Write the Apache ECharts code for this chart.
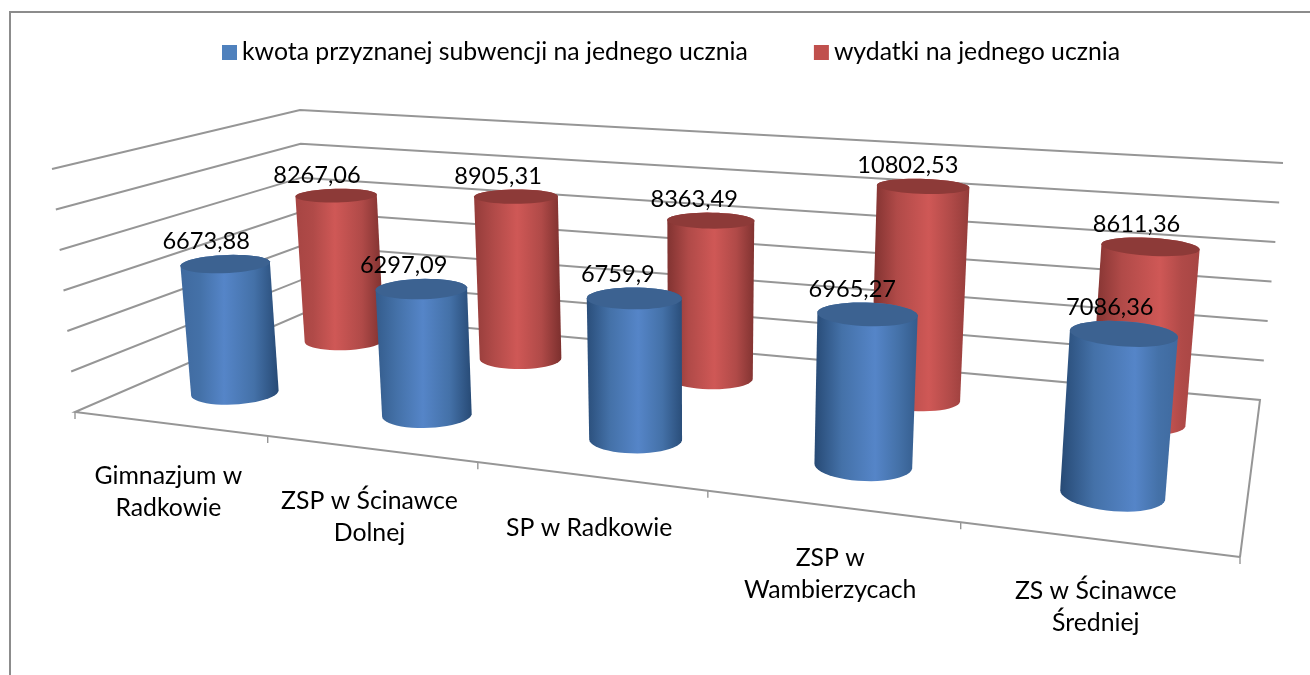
<!DOCTYPE html>
<html><head><meta charset="utf-8">
<style>html,body{margin:0;padding:0;background:#fff}#c{width:1310px;height:675px}</style>
<script src="https://cdn.jsdelivr.net/npm/echarts@6/dist/echarts.min.js"></script>
</head><body><div id="c"></div>
<script>
const categories = ['Gimnazjum w\nRadkowie','ZSP w Ścinawce\nDolnej','SP w Radkowie','ZSP w\nWambierzycach','ZS w Ścinawce\nŚredniej'];
const subwencja = [6673.88,6297.09,6759.9,6965.27,7086.36];
const wydatki = [8267.06,8905.31,8363.49,10802.53,8611.36];
const gridTicks = [0,2000,4000,6000,8000,10000,12000];
const tickEdges = [0,1,2,3,4,5];
const FONT = 'Lato';

// Perspective camera of the 3-D box, fitted to its corners (FL FR BR BL).
const cameraFloor = [[75,412],[1240,557],[1260,400],[314,309]];
const cameraTop   = [[52,169],[1267,253],[1283,163],[300,110]];
// The wall outline as seen: front-left, back-left, back-right, front-right.
const wallFloor = [[75,412],[304,313],[1260,400],[1240,557]];
const wallTop   = [[52,169],[300,110],[1283,163]];
const camera = (function(){
  const [x0,y0]=cameraFloor[0],[x1,y1]=cameraFloor[1],[x2,y2]=cameraFloor[2],[x3,y3]=cameraFloor[3];
  const dx1=x1-x2,dx2=x3-x2,sx=x0-x1+x2-x3,dy1=y1-y2,dy2=y3-y2,sy=y0-y1+y2-y3;
  const den=dx1*dy2-dx2*dy1;
  const g=(sx*dy2-dx2*sy)/den,h=(dx1*sy-sx*dy1)/den;
  const a=x1-x0+g*x1,b=x3-x0+h*x3,d=y1-y0+g*y1,e=y3-y0+h*y3;
  const uv=[[0,0],[1,0],[1,1],[0,1]];
  let SX=0,SY=0,SA=0,SB=0,SQ=0,SXA=0;
  cameraTop.forEach((c,i)=>{
    const [u,v]=uv[i],X=c[0],Y=c[1],W=g*u+h*v+1;
    const A=X*W-(a*u+b*v+x0),B=Y*W-(d*u+e*v+y0);
    SX+=X;SY+=Y;SA+=A;SB+=B;SQ+=X*X+Y*Y;SXA+=X*A+Y*B;
  });
  const n=cameraTop.length;
  const r=(-SXA+(SX*SA+SY*SB)/n)/(SQ-(SX*SX+SY*SY)/n);
  const p=(SA+r*SX)/n,q=(SB+r*SY)/n;
  return {a,b,c:x0,d,e,f:y0,g,h,p,q,r};
})();
function P(u,z,t){
  const m=camera,w=m.g*u+m.h*z+m.r*t+1;
  return [(m.a*u+m.b*z+m.p*t+m.c)/w,(m.d*u+m.e*z+m.q*t+m.f)/w];
}
function norm(api,params,cat,val){
  const cs=params.coordSys,p=api.coord([cat,val]);
  return {u:(p[0]-cs.x)/cs.width,t:1-(p[1]-cs.y)/cs.height};
}
function hull(pts){
  const s=pts.slice().sort((a,b)=>a[0]-b[0]||a[1]-b[1]);
  const cr=(o,a,b)=>(a[0]-o[0])*(b[1]-o[1])-(a[1]-o[1])*(b[0]-o[0]);
  const lo=[],up=[];
  for(const p of s){while(lo.length>1&&cr(lo[lo.length-2],lo[lo.length-1],p)<=0)lo.pop();lo.push(p);}
  for(const p of s.slice().reverse()){while(up.length>1&&cr(up[up.length-2],up[up.length-1],p)<=0)up.pop();up.push(p);}
  return lo.slice(0,-1).concat(up.slice(0,-1));
}
function cylinder(zc,ru,rz,stops,topColor){
  return function(params,api){
    const cat=api.value(0),val=api.value(1);
    const {u,t}=norm(api,params,cat,val);
    const bot=[],top=[];
    for(let k=0;k<48;k++){
      const a=k/48*2*Math.PI,cu=u+ru*Math.cos(a),cz=zc+rz*Math.sin(a);
      bot.push(P(cu,cz,0));top.push(P(cu,cz,t));
    }
    const hl=0.42+0.24*u;
    const minY=Math.min(...top.map(p=>p[1]));
    const c=P(u,zc,t);
    const lab=String(val).replace('.',',');
    const edgeL=echarts.color.lerp(Math.max(0,1-u*1.8),[stops[0],stops[1]]);
    const edgeR=echarts.color.lerp(Math.min(1,Math.max(0,u*1.8-0.8)),[stops[0],stops[1]]);
    return {type:'group',children:[
      {type:'polygon',shape:{points:hull(bot.concat(top))},style:{fill:new echarts.graphic.LinearGradient(0,0,1,0,[
        {offset:0,color:edgeL},{offset:hl*0.45,color:stops[1]},{offset:hl,color:stops[2]},
        {offset:hl+(1-hl)*0.55,color:stops[1]},{offset:1,color:edgeR}])}},
      {type:'polygon',shape:{points:top},style:{fill:topColor}},
      {type:'text',z2:50,style:{text:lab,x:c[0]-20+7*u,y:minY-13,align:'center',verticalAlign:'middle',
        font:'23.6px '+FONT,fill:'#000'}}
    ]};
  };
}
const BLUE=['#274a75','#4471a8','#5585c8'],RED=['#7c302e','#b04a48','#cf5856'];

function gridRender(params,api){
  const v=api.value(0),t=norm(api,params,0,v).t;
  const pts=wallTop.map((c,i)=>[wallFloor[i][0]+(c[0]-wallFloor[i][0])*t,wallFloor[i][1]+(c[1]-wallFloor[i][1])*t]);
  if(v===0){pts.unshift(wallFloor[3]);pts.push(wallFloor[3]);}
  return {type:'polyline',shape:{points:pts},style:{fill:null,stroke:'#969696',lineWidth:2}};
}
function tickRender(params,api){
  const a=P(api.value(0)/categories.length,0,0);
  return {type:'line',shape:{x1:a[0],y1:a[1],x2:a[0],y2:a[1]+7},style:{stroke:'#969696',lineWidth:1.4}};
}
function catRender(params,api){
  const i=api.value(0),a=P((i+0.5)/categories.length,0,0);
  return {type:'text',style:{text:categories[i],x:a[0]-1,y:a[1]+36,align:'center',verticalAlign:'top',
    font:'24.8px '+FONT,lineHeight:32,fill:'#000'}};
}
const chart=echarts.init(document.getElementById('c'),null,{renderer:'canvas'});
chart.setOption({
  animation:false,backgroundColor:'#fff',
  textStyle:{fontFamily:FONT},
  graphic:[{type:'polyline',silent:true,shape:{points:[[10,675],[10,12],[1310,12]]},style:{fill:null,stroke:'#8c8c8c',lineWidth:2}}],
  legend:{left:217,top:35,itemWidth:15,itemHeight:15,itemGap:66,icon:'rect',
    data:['kwota przyznanej subwencji na jednego ucznia','wydatki na jednego ucznia'],
    textStyle:{fontFamily:FONT,fontSize:24.8,color:'#000'}},
  grid:{left:100,top:100,width:1000,height:400,show:false},
  xAxis:{type:'category',show:false,data:categories},
  yAxis:{type:'value',show:false,min:0,max:12000,interval:2000},
  series:[
    {name:'grid',type:'custom',silent:true,z:1,data:gridTicks.map(v=>[v]),encode:{x:-1,y:0},renderItem:gridRender},
    {name:'ticks',type:'custom',silent:true,z:1,data:tickEdges.map(v=>[v]),encode:{x:-1,y:-1},renderItem:tickRender},
    {name:'labels',type:'custom',silent:true,z:1,data:categories.map((c,i)=>[i]),encode:{x:0,y:-1},renderItem:catRender},
    {name:'wydatki na jednego ucznia',type:'custom',z:2,itemStyle:{color:'#c0504d'},
      data:wydatki.map((v,i)=>[i,v]),encode:{x:0,y:1},renderItem:cylinder(0.74,0.041,0.095,RED,'#8d3a38')},
    {name:'kwota przyznanej subwencji na jednego ucznia',type:'custom',z:3,itemStyle:{color:'#4f81bd'},
      data:subwencja.map((v,i)=>[i,v]),encode:{x:0,y:1},renderItem:cylinder(0.25,0.04,0.095,BLUE,'#3c6291')}
  ]
});
</script></body></html>
